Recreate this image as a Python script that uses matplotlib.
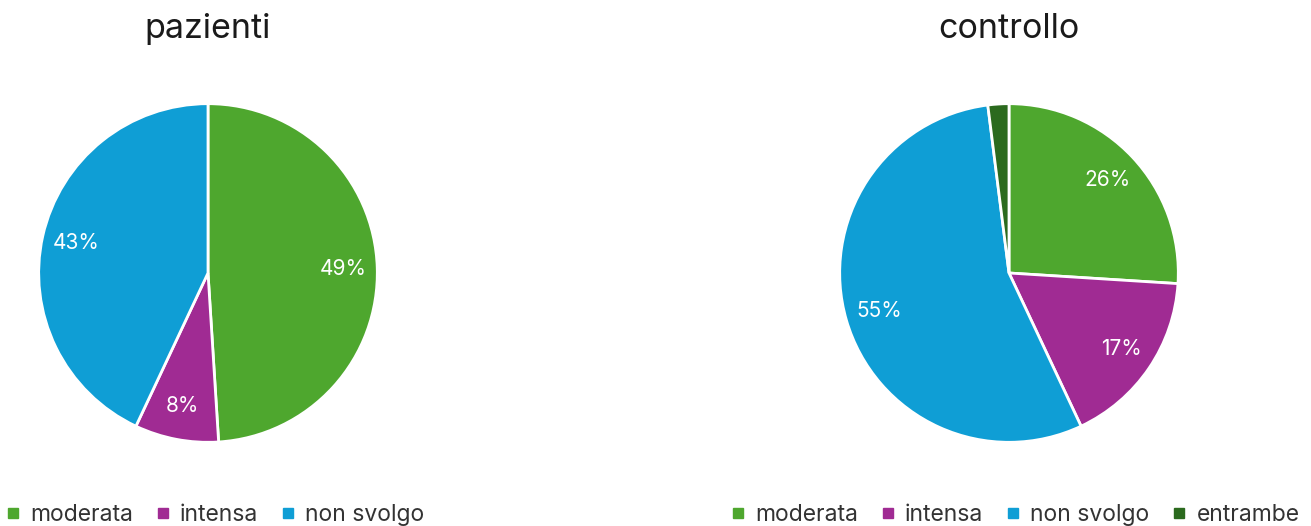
import matplotlib.pyplot as plt
from matplotlib.lines import Line2D

plt.rcParams['font.family'] = ['Inter', 'DejaVu Sans']

# attività fisica: pazienti vs controllo (percentuali)
cat_pazienti = ['moderata', 'intensa', 'non svolgo']
val_pazienti = [49, 8, 43]

cat_controllo = ['moderata', 'intensa', 'non svolgo', 'entrambe']
val_controllo = [26, 17, 55, 2]

colori = {'moderata': '#4EA72E', 'intensa': '#A02B93',
          'non svolgo': '#0F9ED5', 'entrambe': '#2B6A1E'}

W, H = 1311, 526
fig = plt.figure(figsize=(W / 100, H / 100), dpi=100)


def pie_axes(cx, cy, r):
    return fig.add_axes([(cx - r) / W, (H - cy - r) / H, 2 * r / W, 2 * r / H])


def fmt(p):
    return f'{p:.0f}%' if p >= 3 else ''


def draw_pie(ax, cats, vals, title, cx, cy):
    ax.pie(vals, colors=[colori[c] for c in cats], startangle=90,
           counterclock=False, autopct=fmt, pctdistance=0.8,
           wedgeprops=dict(edgecolor='white', linewidth=2),
           textprops=dict(color='white', fontsize=15))
    ax.set_xlim(-1.01, 1.01)
    ax.set_ylim(-1.01, 1.01)
    fig.text(cx / W, 1 - 29 / H, title, ha='center', va='center',
             fontsize=24.5, color='#1a1a1a')


def legend(cats, x0):
    handles = [Line2D([], [], marker='s', linestyle='none', markersize=7.5,
                      markerfacecolor=colori[c], markeredgecolor=colori[c])
               for c in cats]
    fig.legend(handles, cats, loc='center left', bbox_to_anchor=(x0 / W, 1 - 515 / H),
               ncol=len(cats), frameon=False, fontsize=16.5, handletextpad=0.45,
               columnspacing=1.0, handlelength=0.6, borderpad=0, borderaxespad=0,
               labelcolor='#333333')


ax1 = pie_axes(208, 273, 171)
draw_pie(ax1, cat_pazienti, val_pazienti, 'pazienti', 208, 273)
ax2 = pie_axes(1009, 273, 171)
draw_pie(ax2, cat_controllo, val_controllo, 'controllo', 1009, 273)

legend(cat_pazienti, 6)
legend(cat_controllo, 731)

fig.savefig('out.png', dpi=100, facecolor='white')
